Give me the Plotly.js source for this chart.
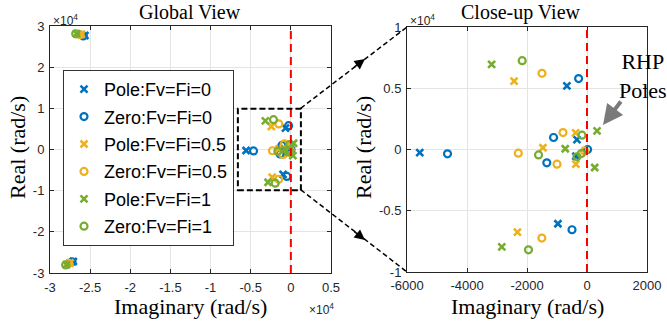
<!DOCTYPE html>
<html>
<head>
<meta charset="utf-8">
<script src="https://cdn.plot.ly/plotly-3.0.1.min.js"></script>
<style>html,body{margin:0;padding:0;background:#fff;}#chart{width:667px;height:326px;}</style>
</head>
<body>
<div id="chart"></div>
<script>
// ---- data (x = Imaginary rad/s, y = Real rad/s) ----
const seriesNames = ["Pole:Fv=Fi=0", "Zero:Fv=Fi=0", "Pole:Fv=Fi=0.5", "Zero:Fv=Fi=0.5", "Pole:Fv=Fi=1", "Zero:Fv=Fi=1"];

const pole0Imag = [-5575, -670, -335, -370, -970, -25650, -27100];
const pole0Real = [-250, 5190, 800, -550, -6060, 27700, -27200];
const zero0Imag = [-4650, -280, -1115, -1340, -500, 20, -25850, -27250];
const zero0Real = [-350, 5790, 980, -1090, -6550, 0, 27600, -27300];

const pole05Imag = [-2430, -1470, -380, -370, -2320, -26100, -27500];
const pole05Real = [5580, 140, 1360, -1200, -6740, 28000, -27550];
const zero05Imag = [-1500, -800, -2290, -1000, -1505, -80, -26250, -27650];
const zero05Real = [6220, 1380, -300, -1200, -7230, -120, 27900, -27650];

const pole1Imag = [-3180, -725, 335, 256, -2840, -26700, -27950];
const pole1Real = [6950, 60, 1520, -1470, -7950, 28150, -27950];
const zero1Imag = [-2160, -167, -1615, -335, -190, -1951, -26800, -28050];
const zero1Real = [7250, 1170, -440, -600, -330, -8190, 28100, -28050];

const seriesImag = [pole0Imag, zero0Imag, pole05Imag, zero05Imag, pole1Imag, zero1Imag];
const seriesReal = [pole0Real, zero0Real, pole05Real, zero05Real, pole1Real, zero1Real];
const seriesColors = ["#0072BD", "#0072BD", "#EDB120", "#EDB120", "#77AC30", "#77AC30"];
const seriesIsPole = [true, false, true, false, true, false];

// tick labels
const globalXTicks = [-30000, -25000, -20000, -15000, -10000, -5000, 0, 5000];
const globalXLabels = ["-3", "-2.5", "-2", "-1.5", "-1", "-0.5", "0", "0.5"];
const globalYTicks = [-30000, -20000, -10000, 0, 10000, 20000, 30000];
const globalYLabels = ["-3", "-2", "-1", "0", "1", "2", "3"];
const closeXTicks = [-6000, -4000, -2000, 0, 2000];
const closeXLabels = ["-6000", "-4000", "-2000", "0", "2000"];
const closeYTicks = [-10000, -5000, 0, 5000, 10000];
const closeYLabels = ["-1", "-0.5", "0", "0.5", "1"];

// ---- build traces ----
const traces = [];
["", "2"].forEach(function (suffix, k) {
  for (let i = 0; i < seriesNames.length; i++) {
    const pole = seriesIsPole[i];
    traces.push({
      type: "scatter",
      mode: "markers",
      name: seriesNames[i],
      x: seriesImag[i],
      y: seriesReal[i],
      xaxis: "x" + suffix,
      yaxis: "y" + suffix,
      showlegend: k === 0,
      legendgroup: "g" + i,
      marker: pole
        ? {symbol: "x-thin-open", size: 7, color: seriesColors[i], line: {color: seriesColors[i], width: 2.6}}
        : {symbol: "circle-open", size: 7, color: seriesColors[i], line: {color: seriesColors[i], width: 2.2}},
      hoverinfo: "x+y+name"
    });
  }
});

const tickFont = {family: "Liberation Sans, Arial, sans-serif", size: 13, color: "#262626"};
function axis(domain, range, vals, text, anchor, standoff) {
  return {
    domain: domain, range: range, tickvals: vals, ticktext: text, anchor: anchor,
    showline: true, linecolor: "#262626", linewidth: 1, mirror: "ticks",
    ticks: "inside", ticklen: 4, tickcolor: "#262626", tickwidth: 1,
    showgrid: true, gridcolor: "#e4e4e4", gridwidth: 1, zeroline: false,
    tickfont: tickFont, automargin: false, fixedrange: true,
    ticklabelstandoff: standoff
  };
}

const W = 667, H = 326;
function px(x) { return x / W; }
function py(y) { return 1 - y / H; }

const serif = "Liberation Serif, Times New Roman, serif";
const sans = "Liberation Sans, Arial, sans-serif";
function label(text, x, y, size, family, opts) {
  const a = {text: text, x: px(x), y: py(y), xref: "paper", yref: "paper", xanchor: "center", yanchor: "middle",
    showarrow: false, font: {family: family, size: size, color: "#000"}};
  return Object.assign(a, opts || {});
}
const expFont = {family: sans, size: 12, color: "#262626"};
const annotations = [
  label("Global View", 190, 12, 20, serif),
  label("Close-up View", 521, 12, 20, serif),
  label("Imaginary (rad/s)", 190, 306, 22, serif),
  label("Imaginary (rad/s)", 527, 306, 22, serif),
  label("Real (rad/s)", 17, 148, 22, serif, {textangle: -90}),
  label("Real (rad/s)", 363, 148, 22, serif, {textangle: -90}),
  label("×10<sup>4</sup>", 51, 20, 12, sans, {xanchor: "left", font: expFont}),
  label("×10<sup>4</sup>", 408, 20, 12, sans, {xanchor: "left", font: expFont}),
  label("×10<sup>4</sup>", 307, 309, 12, sans, {xanchor: "left", font: expFont}),
  label("RHP<br>Poles", 643, 76, 22, serif),
  // gray arrow to RHP pole
  {text: "", x: px(603), y: py(125), xref: "paper", yref: "paper", ax: 19, ay: -25, showarrow: true, arrowhead: 2, arrowsize: 1, arrowwidth: 4, arrowcolor: "#7a7a7a"},
  // black arrowheads on connector lines
  {text: "", x: px(365), y: py(59), xref: "paper", yref: "paper", ax: -12, ay: 9, showarrow: true, arrowhead: 2, arrowsize: 1.3, arrowwidth: 1.6, arrowcolor: "#000"},
  {text: "", x: px(365), y: py(240), xref: "paper", yref: "paper", ax: -12, ay: -9.5, showarrow: true, arrowhead: 2, arrowsize: 1.3, arrowwidth: 1.6, arrowcolor: "#000"}
];

const shapes = [
  {type: "line", xref: "x", yref: "y domain", x0: 0, x1: 0, y0: 0, y1: 1, line: {color: "#FF0000", width: 2, dash: "8px,5px"}},
  {type: "line", xref: "x2", yref: "y2 domain", x0: 0, x1: 0, y0: 0, y1: 1, line: {color: "#FF0000", width: 2, dash: "8px,5px"}},
  {type: "rect", xref: "x", yref: "y", x0: -6600, x1: 1250, y0: -9900, y1: 9900, line: {color: "#000", width: 2, dash: "6px,3px"}},
  {type: "line", xref: "paper", yref: "paper", x0: px(300.7), y0: py(108.3), x1: px(407), y1: py(27), line: {color: "#000", width: 1.5, dash: "5px,3px"}},
  {type: "line", xref: "paper", yref: "paper", x0: px(300.7), y0: py(189.7), x1: px(407), y1: py(272), line: {color: "#000", width: 1.5, dash: "5px,3px"}}
];

const layout = {
  width: W, height: H,
  margin: {l: 0, r: 0, t: 0, b: 0, pad: 0},
  paper_bgcolor: "#fff", plot_bgcolor: "#fff",
  xaxis: axis([px(50), px(331)], [-30000, 5000], globalXTicks, globalXLabels, "y", 2),
  yaxis: axis([py(273), py(26)], [-30000, 30000], globalYTicks, globalYLabels, "x", 2),
  xaxis2: axis([px(407), px(647)], [-6000, 2000], closeXTicks, closeXLabels, "y2", 1),
  yaxis2: axis([py(272), py(27)], [-10000, 10000], closeYTicks, closeYLabels, "x2", 2),
  showlegend: true,
  legend: {
    x: px(63), y: py(70), xanchor: "left", yanchor: "top",
    bgcolor: "#fff", bordercolor: "#333", borderwidth: 1,
    font: {family: sans, size: 18, color: "#000"},
    traceorder: "grouped", tracegroupgap: 1, itemwidth: 30
  },
  annotations: annotations,
  shapes: shapes
};

Plotly.newPlot("chart", traces, layout, {displayModeBar: false, staticPlot: true});
</script>
</body>
</html>
